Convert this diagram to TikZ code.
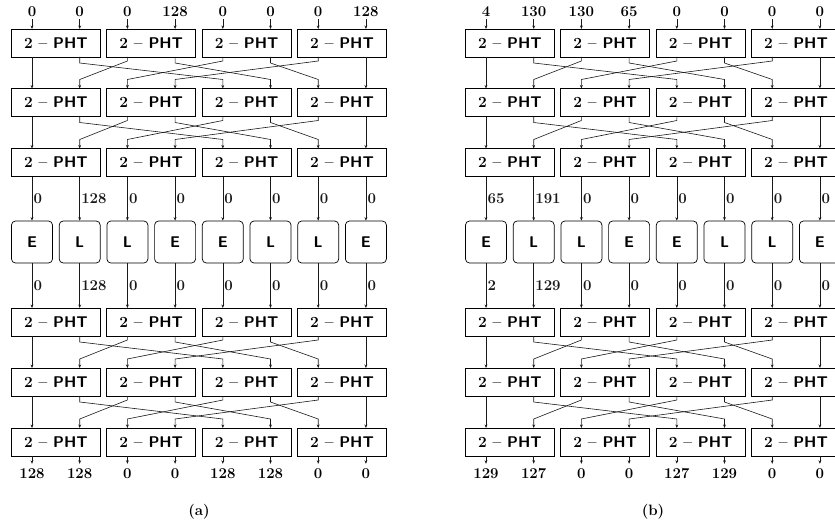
\documentclass[tikz,border=0pt]{standalone}
\usepackage{fontspec}
\usetikzlibrary{arrows.meta,calc}
\newcommand\mynumfont{\fontsize{15}{17}\selectfont\bfseries}
\newcommand\myphtfont{\fontsize{15.5}{18}\selectfont\bfseries}
\newcommand\myelfont{\fontsize{15.5}{18}\selectfont\sffamily\bfseries}
\begin{document}
\begin{tikzpicture}[x=1pt,y=-1pt,
  pht/.style={draw,line width=0.7pt,minimum width=89pt,minimum height=28pt,inner sep=0pt,font=\myphtfont},
  elbox/.style={draw,line width=0.7pt,rounded corners=4pt,minimum width=41pt,minimum height=42pt,inner sep=0pt,font=\myelfont},
  wire/.style={line width=0.6pt,black!90,-{Stealth[length=3.5pt,width=2.8pt]}},
  num/.style={font=\mynumfont,inner sep=0pt},
  lab/.style={font=\mynumfont,inner sep=0pt,anchor=west,xshift=1.3pt}]
\useasboundingbox (0,0) rectangle (835,527);
\foreach \P/\ox in {a/0,b/454}{
  \foreach \r/\yc in {1/43,2/102.5,3/162.5,4/322,5/382,6/442}{
    \foreach \j in {0,1,2,3}{
      \node[pht] (\P-r\r-b\j) at ({\ox+55.85+95.4*\j},\yc) {2 -- {\sffamily PHT}};
    }
    \foreach \k in {0,...,7}{
      \coordinate (\P-r\r-t\k) at ({\ox+32+47.7*\k},\yc-14);
      \coordinate (\P-r\r-s\k) at ({\ox+32+47.7*\k},\yc+14);
    }
  }
  \foreach \k/\t in {0/E,1/L,2/L,3/E,4/E,5/L,6/L,7/E}
    \node[elbox] (\P-e\k) at ({\ox+32+47.7*\k},242) {\t};
  \foreach \r/\n in {1/2,2/3,4/5,5/6}{
    \foreach \k in {0,7}
      \draw[wire] (\P-r\r-s\k) -- (\P-r\n-t\k);
    \foreach \k/\d in {2/1,4/2,6/3}
      \draw[wire] (\P-r\r-s\k) -- ++(0,4) -- ($(\P-r\n-t\d)+(0,-9)$) -- (\P-r\n-t\d);
    \foreach \k/\d in {1/4,3/5,5/6}
      \draw[wire] (\P-r\r-s\k) -- ++(0,6) -- ($(\P-r\n-t\d)+(0,-9)$) -- (\P-r\n-t\d);
  }
}
% panel (a) labels
\foreach \k/\v in {0/0,1/0,2/0,3/128,4/0,5/0,6/0,7/128}{
  \node[num] (a-in\k) at ({32+47.7*\k},12) {\v};
  \draw[wire,shorten <=2pt] (a-in\k) -- (a-r1-t\k);
}
\foreach \k/\u/\w in {0/0/0,1/128/128,2/0/0,3/0/0,4/0/0,5/0/0,6/0/0,7/0/0}{
  \draw[wire] (a-r3-s\k) -- node[lab]{\u} (a-e\k);
  \draw[wire] (a-e\k) -- node[lab]{\w} (a-r4-t\k);
}
\foreach \k/\v in {0/128,1/128,2/0,3/0,4/128,5/128,6/0,7/0}{
  \node[num] (a-out\k) at ({32+47.7*\k},474) {\v};
  \draw[wire,shorten >=5pt] (a-r6-s\k) -- (a-out\k);
}
% panel (b) labels
\foreach \k/\v in {0/4,1/130,2/130,3/65,4/0,5/0,6/0,7/0}{
  \node[num] (b-in\k) at ({486+47.7*\k},12) {\v};
  \draw[wire,shorten <=2pt] (b-in\k) -- (b-r1-t\k);
}
\foreach \k/\u/\w in {0/65/2,1/191/129,2/0/0,3/0/0,4/0/0,5/0/0,6/0/0,7/0/0}{
  \draw[wire] (b-r3-s\k) -- node[lab]{\u} (b-e\k);
  \draw[wire] (b-e\k) -- node[lab]{\w} (b-r4-t\k);
}
\foreach \k/\v in {0/129,1/127,2/0,3/0,4/127,5/129,6/0,7/0}{
  \node[num] (b-out\k) at ({486+47.7*\k},474) {\v};
  \draw[wire,shorten >=5pt] (b-r6-s\k) -- (b-out\k);
}
\node[num] (capa) at (199,512) {(a)};
\node[num] (capb) at (653,512) {(b)};
\end{tikzpicture}
\end{document}
